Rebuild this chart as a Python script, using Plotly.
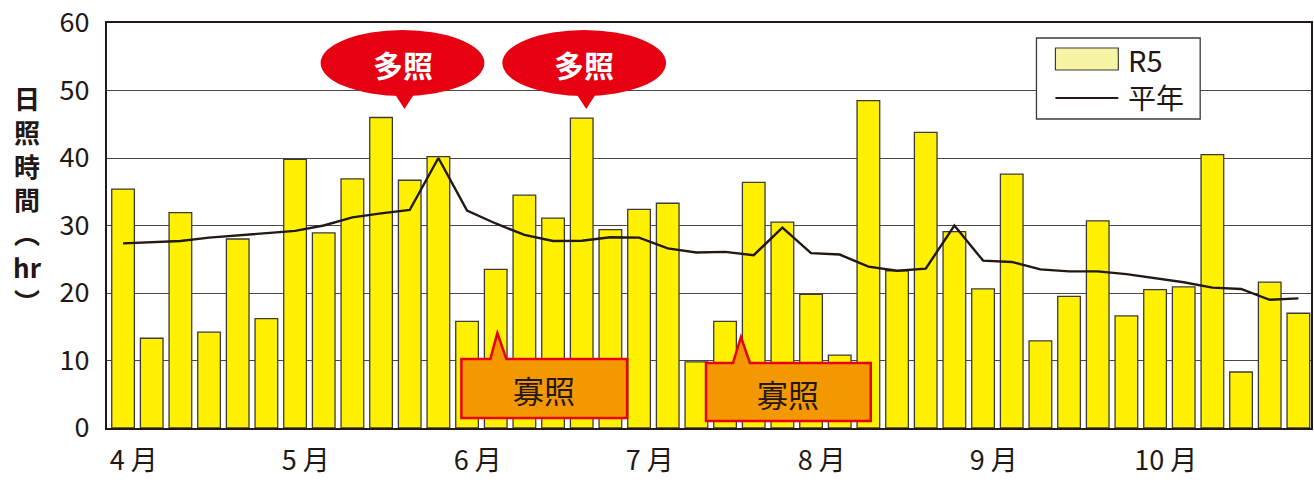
import plotly.graph_objects as go

# ---- data ----
months = ["4 月", "5 月", "6 月", "7 月", "8 月", "9 月", "10 月"]
periods_per_month = 6
r5_hours = [35.4, 13.3, 31.9, 14.2, 28.0, 16.2,
            39.8, 28.9, 36.9, 46.0, 36.7, 40.2,
            15.8, 23.5, 34.5, 31.1, 45.9, 29.4,
            32.4, 33.3, 9.8, 15.8, 36.4, 30.5,
            19.8, 10.8, 48.5, 23.3, 43.8, 29.1,
            20.6, 37.6, 12.9, 19.5, 30.7, 16.6,
            20.5, 20.9, 40.5, 8.3, 21.6, 17.0]
normal_hours = [27.35, 27.5, 27.7, 28.2, 28.5, 28.8,
                29.2, 30.0, 31.2, 31.8, 32.3, 40.0,
                32.2, 30.3, 28.6, 27.7, 27.75, 28.25,
                28.2, 26.6, 26.0, 26.1, 25.6, 29.7,
                25.9, 25.7, 23.9, 23.3, 23.6, 30.0,
                24.8, 24.6, 23.5, 23.2, 23.2, 22.8,
                22.2, 21.6, 20.8, 20.6, 19.0, 19.2]
yticks = [0, 10, 20, 30, 40, 50, 60]

x = list(range(len(r5_hours)))

TXT = "#231815"
FONT = "Noto Sans CJK JP"
RED = "#E60012"
ORANGE = "#F39800"

# layout geometry (pixels)
W, H = 1314, 480
L, R, T, B = 107, 1, 23, 52
PW, PH = W - L - R, H - T - B


def px(xp):
    return (xp - L) / PW


def py(yp):
    return (H - B - yp) / PH


fig = go.Figure()
fig.add_trace(go.Bar(
    x=x, y=r5_hours, name="R5",
    marker=dict(color="#FFF100", line=dict(color="#3e3a39", width=1.3)),
    width=0.79,
))
fig.add_trace(go.Scatter(
    x=x, y=normal_hours, name="平年", mode="lines",
    line=dict(color=TXT, width=2.4),
))

shapes = []
annotations = []

# legend box
shapes.append(dict(type="rect", xref="paper", yref="paper",
                   x0=px(1038), x1=px(1202), y0=py(119), y1=py(38),
                   fillcolor="white", line=dict(color="#3e3a39", width=1.3), layer="above"))
shapes.append(dict(type="rect", xref="paper", yref="paper",
                   x0=px(1057), x1=px(1120), y0=py(70), y1=py(48),
                   fillcolor="#F8F4A6", line=dict(color="#3e3a39", width=1.2), layer="above"))
shapes.append(dict(type="line", xref="paper", yref="paper",
                   x0=px(1057), x1=px(1120), y0=py(98), y1=py(98),
                   line=dict(color=TXT, width=2.2), layer="above"))
annotations.append(dict(xref="paper", yref="paper", x=px(1128), y=py(59), text="R5",
                        showarrow=False, xanchor="left", yanchor="middle",
                        font=dict(family=FONT, size=29, color=TXT)))
annotations.append(dict(xref="paper", yref="paper", x=px(1128), y=py(97), text="平年",
                        showarrow=False, xanchor="left", yanchor="middle",
                        font=dict(family=FONT, size=28, color=TXT)))

# 多照 callouts (red ellipses with tails)
for cx, tipx in [(403, 405), (585, 587)]:
    shapes.append(dict(type="circle", xref="paper", yref="paper",
                       x0=px(cx - 82), x1=px(cx + 82), y0=py(96), y1=py(30),
                       fillcolor=RED, line=dict(width=0), layer="above"))
    path = "M {},{} L {},{} L {},{} Z".format(
        px(tipx - 11), py(92), px(tipx + 11), py(92), px(tipx), py(109))
    shapes.append(dict(type="path", xref="paper", yref="paper", path=path,
                       fillcolor=RED, line=dict(width=0), layer="above"))
    annotations.append(dict(xref="paper", yref="paper", x=px(cx), y=py(64), text="<b>多照</b>",
                            showarrow=False, xanchor="center", yanchor="middle",
                            font=dict(family=FONT, size=30, color="white")))

# 寡照 callouts (orange boxes with spikes)
for x0, x1, y0, y1, bl, br, tipx, tipy in [
        (462, 628, 359, 418, 491, 507, 498, 333),
        (707, 872, 363, 421, 734, 751, 742, 337)]:
    path = ("M {a},{t} L {bl},{t} L {tx},{ty} L {br},{t} L {b},{t} "
            "L {b},{bo} L {a},{bo} Z").format(
        a=px(x0), b=px(x1), t=py(y0), bo=py(y1),
        bl=px(bl), br=px(br), tx=px(tipx), ty=py(tipy))
    shapes.append(dict(type="path", xref="paper", yref="paper", path=path,
                       fillcolor=ORANGE, line=dict(color=RED, width=2.5), layer="above"))
    annotations.append(dict(xref="paper", yref="paper", x=px((x0 + x1) / 2),
                            y=py((y0 + y1) / 2 + 1), text="寡照",
                            showarrow=False, xanchor="center", yanchor="middle",
                            font=dict(family=FONT, size=31, color=TXT)))

# y-axis title (vertical)
annotations.append(dict(xref="paper", yref="paper", x=px(27), y=py(199),
                        text="<b>日<br>照<br>時<br>間<br>︵<br>hr<br>︶</b>",
                        showarrow=False, xanchor="center", yanchor="middle",
                        font=dict(family=FONT, size=26, color=TXT)))

fig.update_layout(
    width=W, height=H,
    margin=dict(l=L, r=R, t=T, b=B),
    paper_bgcolor="white", plot_bgcolor="white",
    showlegend=False,
    bargap=0.21,
    shapes=shapes,
    annotations=annotations,
    font=dict(family=FONT, color=TXT),
)
fig.update_xaxes(
    range=[-0.56, len(x) - 0.56],
    tickvals=[i * periods_per_month + 0.37 for i in range(len(months))],
    ticktext=months, ticks="", showgrid=False, zeroline=False,
    showline=True, mirror=True, linecolor=TXT, linewidth=2,
    tickfont=dict(family=FONT, size=27, color=TXT),
    ticklabelstandoff=8,
)
fig.update_yaxes(
    range=[0, 60], tickvals=yticks, ticks="",
    showgrid=True, gridcolor="#4a4646", gridwidth=1.4, zeroline=False,
    showline=True, mirror=True, linecolor=TXT, linewidth=2,
    tickfont=dict(family=FONT, size=27, color=TXT),
    ticklabelstandoff=10,
)

fig.write_html("out.html")
